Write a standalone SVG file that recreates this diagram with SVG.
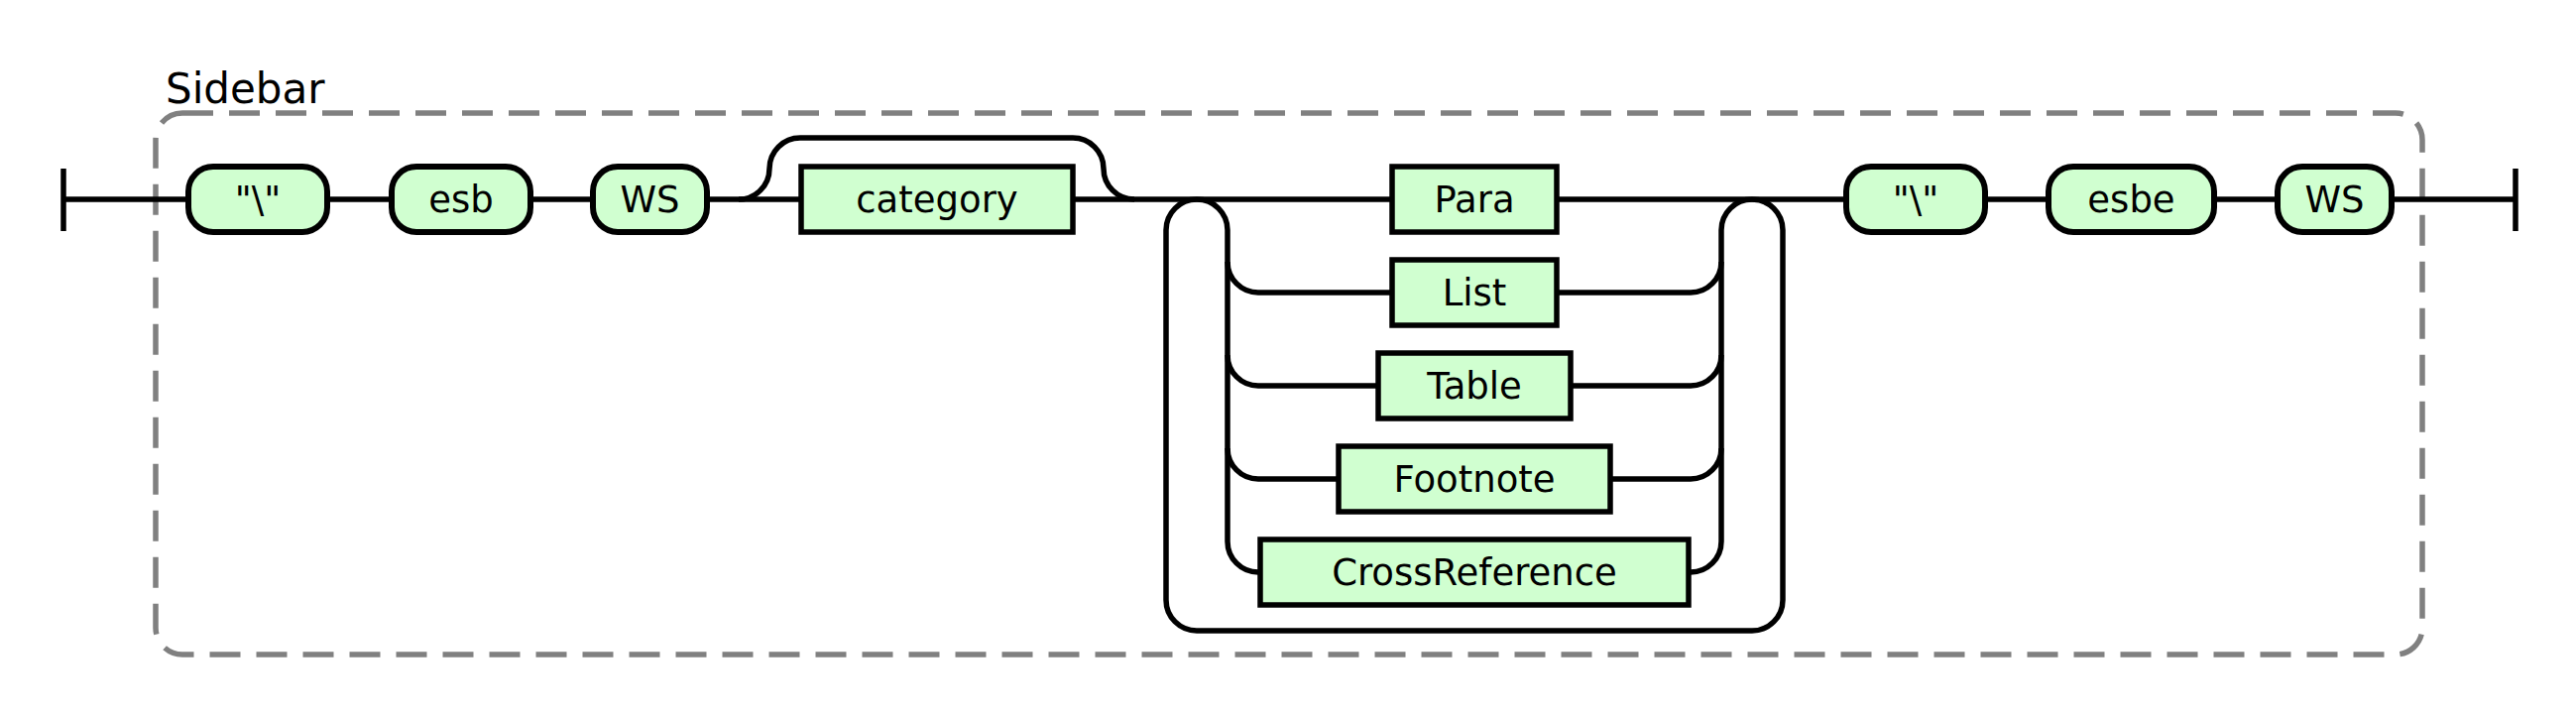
<svg xmlns="http://www.w3.org/2000/svg" width="2598" height="722" viewBox="0 0 2598 722">
<style>
.line{fill:none;stroke:#000;stroke-width:5.5;stroke-linecap:butt;stroke-linejoin:round}
.term{fill:#D0FFD0;stroke:#000;stroke-width:6}
.nt{fill:#D0FFD0;stroke:#000;stroke-width:5.5}
.lbl{font-family:"DejaVu Sans",Verdana,sans-serif;font-size:37px;fill:#000;text-anchor:middle}
.grp{fill:none;stroke:#808080;stroke-width:5.5;stroke-dasharray:31 16}
.title{font-family:"DejaVu Sans",Verdana,sans-serif;font-size:42px;fill:#000}
</style>
<rect class="grp" x="157" y="114" width="2286" height="546" rx="27" ry="27"/>
<text class="title" x="167" y="104">Sidebar</text>
<g id="connectors">
<path class="line" d="M64,170 L64,233 M64,201 L190,201"/>
<path class="line" d="M330,201 L395,201"/>
<path class="line" d="M535,201 L598,201"/>
<path class="line" d="M713,201 L808,201"/>
<path class="line" d="M745,201 A31,31 0 0 0 776,170 A31,31 0 0 1 807,139 L1082,139 A31,31 0 0 1 1113,170 A31,31 0 0 0 1144,201"/>
<path class="line" d="M1082,201 L1404,201"/>
<path class="line" d="M1207,201 A31,31 0 0 1 1238,232 L1238,546 A31,31 0 0 0 1269,577 L1271,577"/>
<path class="line" d="M1238,264 A31,31 0 0 0 1269,295 L1404,295"/>
<path class="line" d="M1238,358 A31,31 0 0 0 1269,389 L1390,389"/>
<path class="line" d="M1238,452 A31,31 0 0 0 1269,483 L1350,483"/>
<path class="line" d="M1570,295 L1705,295 A31,31 0 0 0 1736,264"/>
<path class="line" d="M1584,389 L1705,389 A31,31 0 0 0 1736,358"/>
<path class="line" d="M1624,483 L1705,483 A31,31 0 0 0 1736,452"/>
<path class="line" d="M1703,577 L1705,577 A31,31 0 0 0 1736,546 L1736,232 A31,31 0 0 1 1767,201"/>
<path class="line" d="M1767,201 A31,31 0 0 1 1798,232 L1798,605 A31,31 0 0 1 1767,636 L1207,636 A31,31 0 0 1 1176,605 L1176,232 A31,31 0 0 1 1207,201"/>
<path class="line" d="M1570,201 L1862,201"/>
<path class="line" d="M2002,201 L2066,201"/>
<path class="line" d="M2233,201 L2297,201"/>
<path class="line" d="M2412,201 L2537,201 M2537,170 L2537,233"/>
</g>
<g id="t_bs1"><rect class="term" x="190" y="168" width="140" height="66" rx="25" ry="25"/><text class="lbl" x="260" y="214">"\"</text></g>
<g id="t_esb"><rect class="term" x="395" y="168" width="140" height="66" rx="25" ry="25"/><text class="lbl" x="465" y="214">esb</text></g>
<g id="t_ws1"><rect class="term" x="598" y="168" width="115" height="66" rx="25" ry="25"/><text class="lbl" x="655.5" y="214">WS</text></g>
<g id="n_category"><rect class="nt" x="808" y="168" width="274" height="66"/><text class="lbl" x="945" y="214">category</text></g>
<g id="n_para"><rect class="nt" x="1404" y="168" width="166" height="66"/><text class="lbl" x="1487" y="214">Para</text></g>
<g id="n_list"><rect class="nt" x="1404" y="262" width="166" height="66"/><text class="lbl" x="1487" y="308">List</text></g>
<g id="n_table"><rect class="nt" x="1390" y="356" width="194" height="66"/><text class="lbl" x="1487" y="402">Table</text></g>
<g id="n_footnote"><rect class="nt" x="1350" y="450" width="274" height="66"/><text class="lbl" x="1487" y="496">Footnote</text></g>
<g id="n_crossref"><rect class="nt" x="1271" y="544" width="432" height="66"/><text class="lbl" x="1487" y="590">CrossReference</text></g>
<g id="t_bs2"><rect class="term" x="1862" y="168" width="140" height="66" rx="25" ry="25"/><text class="lbl" x="1932" y="214">"\"</text></g>
<g id="t_esbe"><rect class="term" x="2066" y="168" width="167" height="66" rx="25" ry="25"/><text class="lbl" x="2149.5" y="214">esbe</text></g>
<g id="t_ws2"><rect class="term" x="2297" y="168" width="115" height="66" rx="25" ry="25"/><text class="lbl" x="2354.5" y="214">WS</text></g>
</svg>
